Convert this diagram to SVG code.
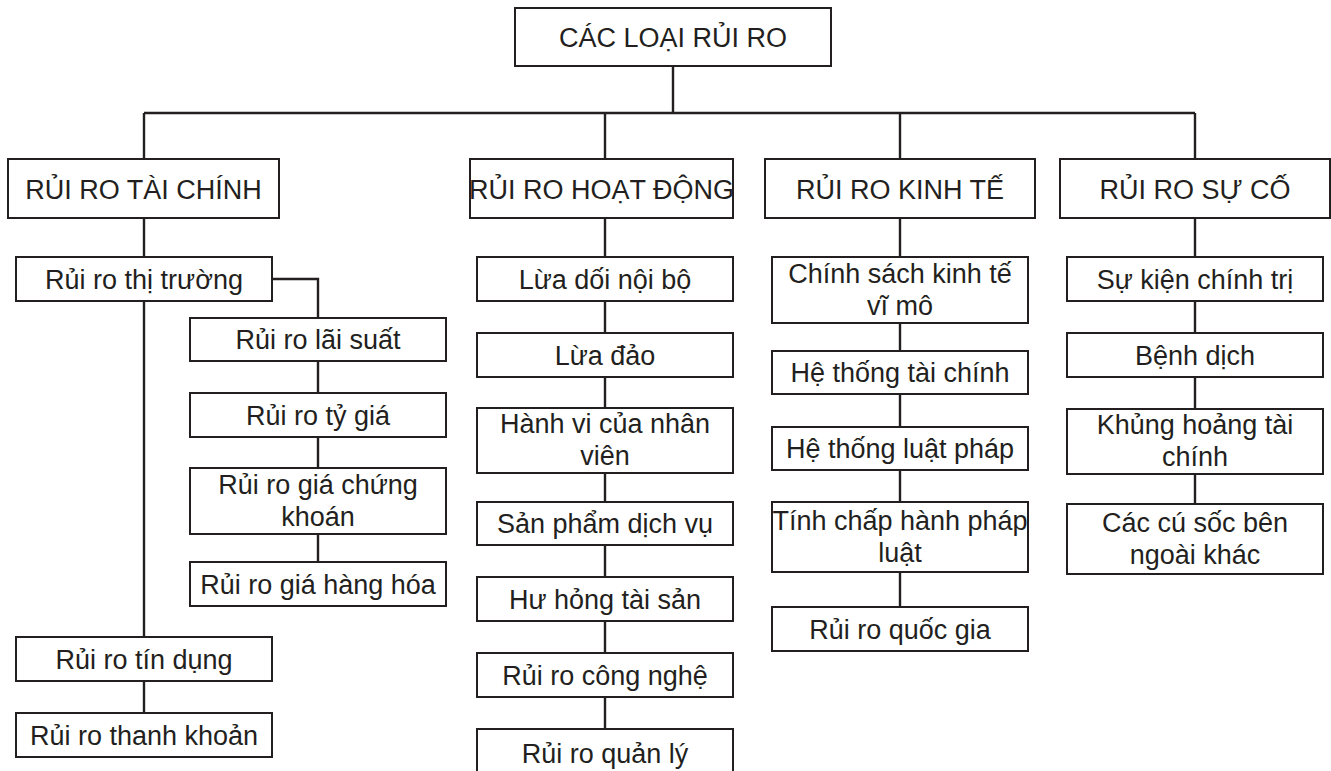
<svg xmlns="http://www.w3.org/2000/svg" width="1331" height="771" viewBox="0 0 1331 771">
<style>
.box{fill:#fff;stroke:#231f20;stroke-width:2}
.t{font-family:"Liberation Sans",Arial,sans-serif;font-size:27px;fill:#231f20;text-anchor:middle}
.c{fill:none;stroke:#231f20;stroke-width:2.4}
</style>
<rect width="1331" height="771" fill="#fff"/>
<g id="connectors">
<path class="c" d="M673 66V113M144 113H1195M144 113V159M605 113V159M900 113V159M1195 113V159"/>
<path class="c" d="M144 218V257M144 301V637M144 681V713M272 279H318V318M318 361V393M318 437V468M318 534V562"/>
<path class="c" d="M605 218V257M605 301V333M605 377V408M605 473V502M605 545V577M605 621V653M605 697V729"/>
<path class="c" d="M900 218V257M900 323V351M900 394V427M900 470V502M900 572V607"/>
<path class="c" d="M1195 218V257M1195 301V333M1195 377V409M1195 474V504"/>
</g>
<g id="root"><rect class="box" x="515" y="8" width="316" height="58"/><text class="t" x="673" y="46.5">CÁC LOẠI RỦI RO</text></g>
<g id="tai-chinh"><rect class="box" x="8" y="159" width="271" height="59"/><text class="t" x="143.5" y="198.5">RỦI RO TÀI CHÍNH</text></g>
<g id="hoat-dong"><rect class="box" x="470" y="159" width="263" height="59"/><text class="t" x="601.5" y="198.5">RỦI RO HOẠT ĐỘNG</text></g>
<g id="kinh-te"><rect class="box" x="765" y="159" width="270" height="59"/><text class="t" x="900" y="198.5">RỦI RO KINH TẾ</text></g>
<g id="su-co"><rect class="box" x="1060" y="159" width="270" height="59"/><text class="t" x="1195" y="198.5">RỦI RO SỰ CỐ</text></g>

<g id="thi-truong"><rect class="box" x="16" y="257" width="256" height="44"/><text class="t" x="144" y="288.5">Rủi ro thị trường</text></g>
<g id="lai-suat"><rect class="box" x="190" y="318" width="256" height="43"/><text class="t" x="318" y="349">Rủi ro lãi suất</text></g>
<g id="ty-gia"><rect class="box" x="190" y="393" width="256" height="44"/><text class="t" x="318" y="424.5">Rủi ro tỷ giá</text></g>
<g id="gia-ck"><rect class="box" x="190" y="468" width="256" height="66"/><text class="t" x="318" y="493.5">Rủi ro giá chứng</text><text class="t" x="318" y="525.5">khoán</text></g>
<g id="hang-hoa"><rect class="box" x="190" y="562" width="256" height="44"/><text class="t" x="318" y="593.5">Rủi ro giá hàng hóa</text></g>
<g id="tin-dung"><rect class="box" x="16" y="637" width="256" height="44"/><text class="t" x="144" y="668.5">Rủi ro tín dụng</text></g>
<g id="thanh-khoan"><rect class="box" x="16" y="713" width="256" height="44"/><text class="t" x="144" y="744.5">Rủi ro thanh khoản</text></g>

<g id="lua-doi"><rect class="box" x="477" y="257" width="256" height="44"/><text class="t" x="605" y="288.5">Lừa dối nội bộ</text></g>
<g id="lua-dao"><rect class="box" x="477" y="333" width="256" height="44"/><text class="t" x="605" y="364.5">Lừa đảo</text></g>
<g id="hanh-vi"><rect class="box" x="477" y="408" width="256" height="65"/><text class="t" x="605" y="433">Hành vi của nhân</text><text class="t" x="605" y="465">viên</text></g>
<g id="san-pham"><rect class="box" x="477" y="502" width="256" height="43"/><text class="t" x="605" y="533">Sản phẩm dịch vụ</text></g>
<g id="hu-hong"><rect class="box" x="477" y="577" width="256" height="44"/><text class="t" x="605" y="608.5">Hư hỏng tài sản</text></g>
<g id="cong-nghe"><rect class="box" x="477" y="653" width="256" height="44"/><text class="t" x="605" y="684.5">Rủi ro công nghệ</text></g>
<g id="quan-ly"><rect class="box" x="477" y="729" width="256" height="48"/><text class="t" x="605" y="763">Rủi ro quản lý</text></g>

<g id="chinh-sach"><rect class="box" x="772" y="257" width="256" height="66"/><text class="t" x="900" y="283">Chính sách kinh tế</text><text class="t" x="900" y="315">vĩ mô</text></g>
<g id="ht-tai-chinh"><rect class="box" x="772" y="351" width="256" height="43"/><text class="t" x="900" y="382">Hệ thống tài chính</text></g>
<g id="ht-luat-phap"><rect class="box" x="772" y="427" width="256" height="43"/><text class="t" x="900" y="458">Hệ thống luật pháp</text></g>
<g id="chap-hanh"><rect class="box" x="772" y="502" width="256" height="70"/><text class="t" x="900" y="529.5">Tính chấp hành pháp</text><text class="t" x="900" y="561.5">luật</text></g>
<g id="quoc-gia"><rect class="box" x="772" y="607" width="256" height="44"/><text class="t" x="900" y="638.5">Rủi ro quốc gia</text></g>

<g id="su-kien"><rect class="box" x="1067" y="257" width="256" height="44"/><text class="t" x="1195" y="288.5">Sự kiện chính trị</text></g>
<g id="benh-dich"><rect class="box" x="1067" y="333" width="256" height="44"/><text class="t" x="1195" y="364.5">Bệnh dịch</text></g>
<g id="khung-hoang"><rect class="box" x="1067" y="409" width="256" height="65"/><text class="t" x="1195" y="434">Khủng hoảng tài</text><text class="t" x="1195" y="466">chính</text></g>
<g id="cu-soc"><rect class="box" x="1067" y="504" width="256" height="70"/><text class="t" x="1195" y="531.5">Các cú sốc bên</text><text class="t" x="1195" y="563.5">ngoài khác</text></g>
</svg>
